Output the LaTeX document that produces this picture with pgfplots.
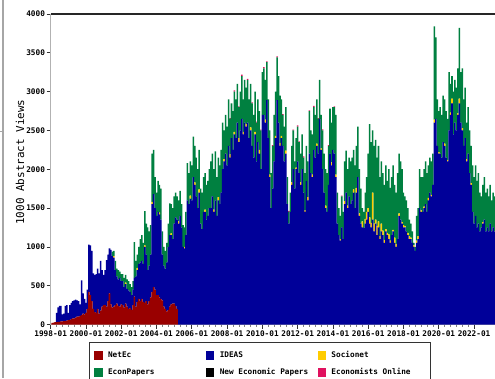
\documentclass[border=0pt]{standalone}
\usepackage{fontspec}
\setmainfont{DejaVu Sans Mono}
\usepackage{pgfplots}
\usepackage{pgfplotstable}
\pgfplotsset{compat=1.18}

\definecolor{netec}{HTML}{990000}
\definecolor{ideas}{HTML}{000099}
\definecolor{socionet}{HTML}{FFCC00}
\definecolor{econpapers}{HTML}{008040}
\definecolor{econonline}{HTML}{E0115F}
\newcommand\tfont{\fontsize{5.8}{6}\selectfont\bfseries}

% monthly tops: R = NetEc, B = top of IDEAS, Y = Socionet, G = top of EconPapers, P = Economists Online
\pgfplotstableread{
m R B Y G P
0 20 20 0 20 0
1 25 25 0 25 0
2 30 30 0 30 0
3 30 150 0 150 0
4 35 220 0 220 0
5 35 240 0 240 0
6 40 240 0 240 0
7 40 130 0 130 0
8 45 140 0 140 0
9 45 240 0 240 0
10 50 250 0 250 0
11 55 150 0 150 0
12 60 250 0 250 0
13 70 280 0 280 0
14 80 300 0 300 0
15 80 310 0 310 0
16 90 320 0 320 0
17 100 310 0 310 0
18 100 300 0 300 0
19 110 260 0 260 0
20 120 570 0 570 0
21 140 400 0 400 0
22 130 330 0 330 0
23 150 280 0 280 0
24 200 450 0 450 0
25 420 1030 0 1030 0
26 380 1020 0 1020 0
27 300 950 0 950 0
28 200 660 0 660 0
29 160 640 0 640 0
30 150 650 0 650 0
31 200 720 0 720 0
32 140 660 0 660 0
33 180 820 0 820 0
34 230 700 0 700 0
35 250 640 0 640 0
36 250 700 0 700 0
37 230 830 0 830 0
38 300 900 0 900 0
39 400 980 0 980 0
40 260 960 0 960 0
41 220 880 0 940 0
42 230 860 20 950 0
43 250 700 0 820 0
44 270 620 0 720 0
45 240 580 0 700 0
46 230 600 0 680 0
47 260 560 0 650 0
48 250 560 0 650 0
49 220 480 0 600 0
50 270 520 20 640 0
51 230 460 0 580 0
52 200 440 0 560 0
53 210 420 0 520 0
54 190 380 0 480 0
55 250 450 0 560 0
56 360 600 0 1060 0
57 230 620 0 820 0
58 290 700 30 900 0
59 330 780 0 1000 0
60 300 800 0 1100 0
61 330 820 0 1150 0
62 290 780 0 1050 0
63 280 1000 20 1460 0
64 300 900 0 1300 0
65 260 700 0 1250 0
66 300 760 0 1200 0
67 350 900 0 1280 0
68 420 1550 30 2200 0
69 480 1680 0 2250 0
70 450 1500 0 1900 0
71 380 1400 0 1700 0
72 380 1450 0 1850 0
73 350 1420 20 1800 0
74 330 1350 0 1750 0
75 310 900 0 1200 0
76 230 760 0 1000 0
77 200 720 0 950 0
78 170 800 0 1050 0
79 190 1000 0 1300 0
80 230 1150 0 1560 0
81 260 1150 25 1550 0
82 270 1100 0 1500 0
83 270 1300 0 1650 0
84 240 1380 0 1700 0
85 200 1350 0 1650 0
86 0 1300 30 1600 0
87 0 1400 0 1720 0
88 0 1250 0 1550 0
89 0 1000 0 1280 0
90 0 980 20 1250 0
91 0 1150 0 1450 0
92 0 1600 0 2080 0
93 0 1550 0 1950 0
94 0 1620 40 2100 0
95 0 1600 0 2050 0
96 0 1900 0 2420 0
97 0 1800 30 2300 0
98 0 1650 0 2150 0
99 0 1500 0 2000 0
100 0 1700 40 2250 0
101 0 1300 0 1750 0
102 0 1230 0 1700 0
103 0 1450 0 1900 0
104 0 1450 30 1950 0
105 0 1350 0 1800 0
106 0 1400 0 1850 0
107 0 1500 0 2000 0
108 0 1500 0 2100 0
109 0 1650 0 2200 0
110 0 1450 30 2000 0
111 0 1600 0 2230 0
112 0 1400 0 1900 0
113 0 1600 40 2150 0
114 0 1550 0 2050 0
115 0 1700 0 2250 0
116 0 2000 0 2600 0
117 0 2100 30 2500 0
118 0 2200 0 2700 0
119 0 2050 0 2550 0
120 0 2300 0 2900 0
121 0 2150 40 2650 10
122 0 2400 0 2850 0
123 0 2250 0 2750 0
124 0 2450 30 3000 15
125 0 2400 0 2900 0
126 0 2600 0 3100 0
127 0 2350 50 2800 10
128 0 2500 0 3000 0
129 0 2650 0 3200 20
130 0 2450 30 2900 0
131 0 2600 0 3150 0
132 0 2550 30 3050 0
133 0 2600 0 3150 15
134 0 2400 0 2900 0
135 0 2500 40 3100 0
136 0 2300 0 2850 10
137 0 2150 0 2700 0
138 0 2450 30 3000 0
139 0 2100 0 2600 15
140 0 2350 0 2900 0
141 0 2200 50 2750 0
142 0 2000 0 2500 10
143 0 2700 0 3250 0
144 0 2700 0 3300 15
145 0 2600 40 3150 0
146 0 2890 0 3380 10
147 0 2400 0 2900 0
148 0 1900 30 2500 0
149 0 1500 0 1950 0
150 0 1750 0 2300 10
151 0 2100 0 2700 0
152 0 2400 30 3000 0
153 0 2890 0 3440 15
154 0 2600 0 3200 0
155 0 2300 40 2950 0
156 0 2400 30 2900 0
157 0 2300 0 2700 10
158 0 2100 0 2550 0
159 0 2200 40 2800 0
160 0 1550 0 1900 0
161 0 1300 0 1450 15
162 0 1450 0 1700 0
163 0 1800 30 2300 0
164 0 2000 0 2500 10
165 0 1750 0 2100 0
166 0 2000 20 2400 0
167 0 2100 0 2550 15
168 0 1950 0 2350 10
169 0 1800 30 2200 0
170 0 2000 0 2450 0
171 0 1700 0 2150 15
172 0 1450 20 1950 0
173 0 1850 0 2300 0
174 0 1600 40 2100 0
175 0 2200 0 2750 10
176 0 1950 0 2500 0
177 0 1900 30 2450 0
178 0 2250 0 2800 15
179 0 2150 0 2700 0
180 0 2300 30 2900 0
181 0 2200 0 2650 10
182 0 2650 0 3150 0
183 0 2250 20 2700 0
184 0 2000 0 2500 15
185 0 1700 0 2200 0
186 0 1500 30 2000 0
187 0 1450 0 1950 0
188 0 1800 0 2300 10
189 0 2200 0 2780 0
190 0 2050 40 2600 0
191 0 2250 0 2800 0
192 0 2200 0 2800 10
193 0 1900 30 2700 0
194 0 1300 0 1700 0
195 0 1150 0 1500 0
196 0 1080 20 1400 0
197 0 1250 0 1650 10
198 0 1100 0 1450 0
199 0 1550 40 2100 0
200 0 1700 0 2240 0
201 0 1500 30 2000 0
202 0 1650 0 2150 0
203 0 1550 0 2100 0
204 0 1600 0 2150 0
205 0 1700 40 2250 0
206 0 1500 0 2050 0
207 0 1700 60 2300 0
208 0 1900 0 2550 0
209 0 1400 30 2000 0
210 0 1300 0 1750 0
211 0 1250 80 1500 0
212 0 1240 0 1450 0
213 0 1300 60 1700 0
214 0 1350 100 1900 0
215 0 1450 50 2200 0
216 0 1300 80 2580 0
217 0 1250 60 2350 0
218 0 1350 350 2500 0
219 0 1200 100 2300 0
220 0 1300 50 2380 0
221 0 1150 120 2150 0
222 0 1250 80 2300 0
223 0 1100 40 1900 0
224 0 1200 100 2100 0
225 0 1150 60 1950 0
226 0 1050 40 1800 0
227 0 1200 30 2050 0
228 0 1150 30 1850 0
229 0 1100 60 2000 0
230 0 1050 30 1760 0
231 0 1150 0 1900 0
232 0 1200 20 2050 0
233 0 1050 70 1800 0
234 0 1000 40 1700 0
235 0 1100 0 1950 0
236 0 1400 30 2200 0
237 0 1350 0 2100 0
238 0 1300 20 2000 0
239 0 1250 30 1700 0
240 0 1250 20 1650 0
241 0 1200 0 1600 0
242 0 1150 30 1500 0
243 0 1100 40 1350 0
244 0 1100 20 1300 0
245 0 1050 0 1200 0
246 0 1000 20 1050 0
247 0 950 0 1000 0
248 0 1050 30 1400 0
249 0 1100 40 1500 0
250 0 1500 0 2000 0
251 0 1450 20 1900 0
252 0 1450 0 1900 0
253 0 1500 20 2000 0
254 0 1550 0 2100 0
255 0 1450 0 1950 0
256 0 1600 30 2050 0
257 0 1700 0 2150 0
258 0 1650 20 2100 0
259 0 1800 0 2200 0
260 0 2600 40 3840 0
261 0 2650 0 3700 0
262 0 2300 0 2900 0
263 0 2200 20 2750 0
264 0 2200 0 2800 0
265 0 2150 0 2700 0
266 0 2350 0 2950 0
267 0 2300 30 2900 0
268 0 2150 0 2750 0
269 0 2100 20 2650 0
270 0 2500 0 3250 0
271 0 2700 30 3100 0
272 0 2850 60 3200 0
273 0 2450 0 3000 0
274 0 2600 0 3150 0
275 0 2500 0 3050 0
276 0 2700 20 3300 0
277 0 2850 60 3820 0
278 0 2600 0 3250 0
279 0 2500 30 3300 0
280 0 2300 0 2900 0
281 0 2400 0 3050 0
282 0 2100 30 2600 0
283 0 2200 0 2800 0
284 0 1950 0 2500 0
285 0 1800 20 2300 0
286 0 1450 0 2050 0
287 0 1300 0 1900 0
288 0 1400 0 2050 0
289 0 1250 0 1850 0
290 0 1300 0 1950 0
291 0 1200 0 1700 0
292 0 1250 0 1650 0
293 0 1300 20 1800 0
294 0 1350 0 1900 0
295 0 1200 0 1700 0
296 0 1250 0 1750 0
297 0 1200 0 1650 0
298 0 1300 0 1800 0
299 0 1200 0 1600 0
300 0 1250 0 1700 0
301 0 1200 0 1650 0
}\views

\begin{document}
\begin{tikzpicture}
\useasboundingbox (0,0) rectangle (371.25pt,283.5pt);
\clip (0,0) rectangle (371.25pt,283.5pt);
\draw[gray!70, line width=1.2pt] (2.25pt,0) -- (2.25pt,283.5pt);
\draw[gray!70, line width=0.6pt] (0,185.25pt) -- (2.25pt,185.25pt);
\begin{axis}[
    at={(38.025pt,40.125pt)}, anchor=south west,
    scale only axis, width=337.35pt, height=232.875pt,
    clip=false,
    ybar stacked, bar width=1.03,
    xmin=0, xmax=306, ymin=0, ymax=4000,
    axis line style={draw=none},
    tick pos=left, tick align=outside,
    major tick length=3pt, minor tick length=1.5pt,
    tick style={gray!40!black, line width=0.5pt},
    minor tick style={gray, line width=0.4pt},
    xtick={0,24,...,288},
    xticklabels={1998-01,2000-01,2002-01,2004-01,2006-01,2008-01,2010-01,2012-01,2014-01,2016-01,2018-01,2020-01,2022-01},
    minor x tick num=5,
    ytick={0,500,...,4000},
    /pgf/number format/assume math mode=true,
    /pgf/number format/1000 sep={},
    tick label style={font=\tfont},
    yticklabel style={xshift=2.2pt},
    xticklabel style={yshift=1.5pt},
    ylabel={1000 Abstract Views},
    ylabel style={font=\fontsize{8.2}{9}\selectfont, at={(axis description cs:-0.0683,0.523)}, anchor=center},
    legend columns=3,
    legend cell align=left,
    legend style={at={(axis description cs:0.0851,-0.0564)}, anchor=north west,
        draw=gray!40!black, line width=0.6pt, inner xsep=0pt, inner ysep=3.375pt,
        nodes={inner sep=0pt, font=\tfont}, row sep=0pt,
        /tikz/every even column/.append style={column sep=0pt}},
    every axis plot post/.append style={draw=none,
        legend image code/.code={\path[fill=none,draw=none] (0pt,-6.375pt) rectangle (14.025pt,6.375pt);
            \fill[#1,draw=none] (3.75pt,-3.1pt) rectangle (9.975pt,3.1pt);}},
]
\addplot[fill=netec] table[x expr=\thisrow{m}+1, y=R] {\views};
\addplot[fill=ideas] table[x expr=\thisrow{m}+1, y expr=\thisrow{B}-\thisrow{R}] {\views};
\addplot[fill=socionet] table[x expr=\thisrow{m}+1, y=Y] {\views};
\addplot[fill=econpapers] table[x expr=\thisrow{m}+1, y expr=\thisrow{G}-\thisrow{B}-\thisrow{Y}] {\views};
\addlegendimage{fill=black}
\addplot[fill=econonline] table[x expr=\thisrow{m}+1, y=P] {\views};
\legend{\makebox[69.75pt][l]{NetEc},\makebox[69.75pt][l]{IDEAS},\makebox[74.175pt][l]{Socionet},
        \makebox[69.75pt][l]{EconPapers},\makebox[69.75pt][l]{New Economic Papers},\makebox[74.175pt][l]{Economists Online}}
\draw[gray!60, line width=0.6pt] (rel axis cs:0,0) -- (rel axis cs:0,1);
\draw[gray!60, line width=0.6pt] (rel axis cs:0,0) -- (rel axis cs:1,0);
\draw[gray!30!black, line width=0.8pt] (rel axis cs:0,1) -- (rel axis cs:1,1);
\end{axis}
\end{tikzpicture}
\end{document}
